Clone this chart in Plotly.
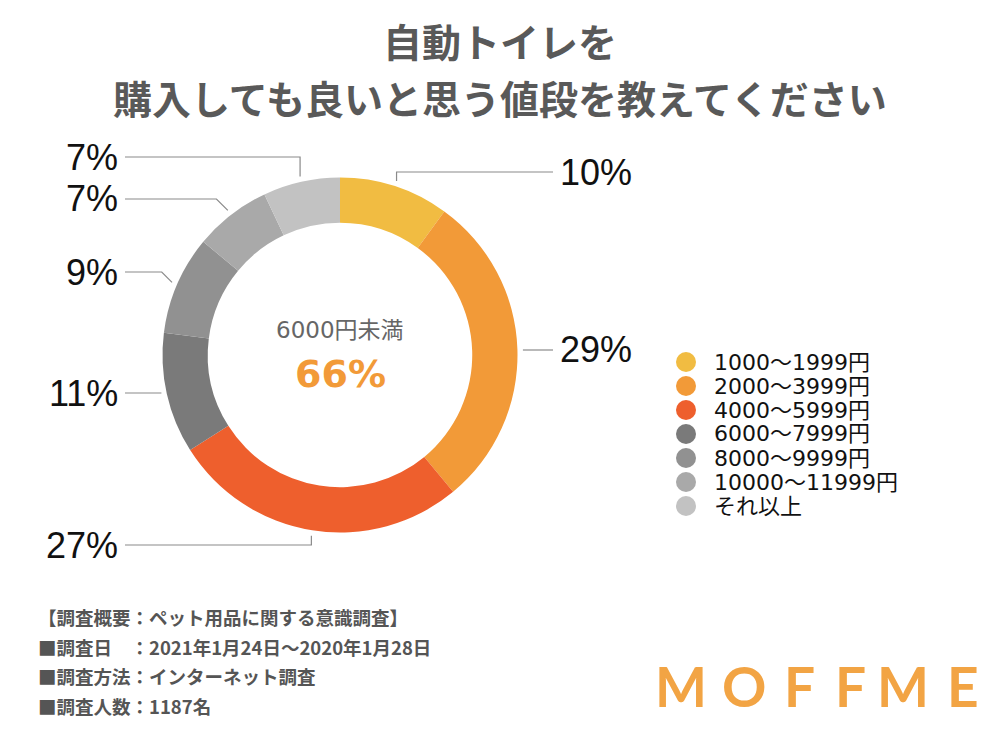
import math
import plotly.graph_objects as go

# ---------------- data ----------------
categories = ["1000〜1999円", "2000〜3999円", "4000〜5999円", "6000〜7999円",
              "8000〜9999円", "10000〜11999円", "それ以上"]
values = [10, 29, 27, 11, 9, 7, 7]
under_6000 = ["1000〜1999円", "2000〜3999円", "4000〜5999円"]
title_lines = ["自動トイレを", "購入しても良いと思う値段を教えてください"]
center_caption = "6000円未満"
footer_lines = ["【調査概要：ペット用品に関する意識調査】",
                "■調査日　：2021年1月24日〜2020年1月28日",
                "■調査方法：インターネット調査",
                "■調査人数：1187名"]
brand = "MOFFME"

# ---------------- style / layout ----------------
colors = ["#F1BC42", "#F29A38", "#EE5F2D", "#7A7A7A", "#919191", "#A9A9A9", "#C2C2C2"]
W, H = 1000, 750
OFF = 8  # page body margin in the browser
CX, CY, R = 340, 355, 177.5
HOLE = 0.745
label_y = [172, 350, 545, 393, 272, 199, 157]
leader_kind = ["v", "h", "v", "h", "d", "d", "v"]
R_START = 183
LEFT_END, RIGHT_END = 125, 553
LEFT_TEXT, RIGHT_TEXT = 120, 558
LINE_COLOR = "#8A8A8A"
JP = "Noto Sans CJK JP"
LATIN = "DejaVu Sans, Noto Sans CJK JP"


def px(x):
    return (x - OFF) / W


def py(y):
    return 1 - (y - OFF) / H


fig = go.Figure()
fig.add_trace(go.Pie(
    labels=categories, values=values, sort=False, direction="clockwise",
    rotation=0, hole=HOLE, textinfo="none", showlegend=False,
    marker=dict(colors=colors, line=dict(width=0)),
    domain=dict(x=[px(CX - R), px(CX + R)], y=[py(CY + R), py(CY - R)]),
))

shapes = []
annotations = []

# leader lines and percentage labels
total = sum(values)
cum = 0
for i, v in enumerate(values):
    mid = (cum + v / 2) / total * 2 * math.pi
    cum += v
    sx = CX + R_START * math.sin(mid)
    sy = CY - R_START * math.cos(mid)
    right = sx > CX
    ly = label_y[i]
    end_x = RIGHT_END if right else LEFT_END
    kind = leader_kind[i]
    if kind == "v":
        pts = [(sx, sy), (sx, ly), (end_x, ly)]
    elif kind == "d":
        dy = abs(sy - ly)
        ex = sx + dy if right else sx - dy
        pts = [(sx, sy), (ex, ly), (end_x, ly)]
    else:
        pts = [(sx, ly), (end_x, ly)]
    path = "M " + " L ".join(f"{px(a):.5f},{py(b):.5f}" for a, b in pts)
    shapes.append(dict(type="path", xref="paper", yref="paper", path=path,
                       line=dict(color=LINE_COLOR, width=1.2)))
    annotations.append(dict(
        xref="paper", yref="paper", x=px(RIGHT_TEXT if right else LEFT_TEXT), y=py(ly),
        xanchor="left" if right else "right", yanchor="middle", showarrow=False,
        text=f"{v}%", font=dict(family="Liberation Sans, Arial", size=36, color="#111111")))

# center text
share = sum(v for c, v in zip(categories, values) if c in under_6000)
annotations.append(dict(xref="paper", yref="paper", x=px(CX), y=py(330), showarrow=False,
                        xanchor="center", yanchor="middle", text=center_caption,
                        font=dict(family=LATIN, size=23, color="#666666")))
annotations.append(dict(xref="paper", yref="paper", x=px(CX), y=py(374), showarrow=False,
                        xanchor="center", yanchor="middle", text=f"<b>{share}%</b>",
                        font=dict(family="DejaVu Sans", size=38, color="#F29A38")))

# title
for j, t in enumerate(title_lines):
    annotations.append(dict(xref="paper", yref="paper", x=px(500), y=py(40 + 57 * j),
                            showarrow=False, xanchor="center", yanchor="middle",
                            text=f"<b>{t}</b>",
                            font=dict(family=JP, size=39, color="#595959")))

# custom legend
for k, (c, col) in enumerate(zip(categories, colors)):
    yy = 362 + 24 * k
    shapes.append(dict(type="circle", xref="paper", yref="paper",
                       x0=px(676), x1=px(696), y0=py(yy + 10), y1=py(yy - 10),
                       fillcolor=col, line=dict(width=0)))
    annotations.append(dict(xref="paper", yref="paper", x=px(712), y=py(yy),
                            showarrow=False, xanchor="left", yanchor="middle", text=c,
                            font=dict(family=LATIN, size=22, color="#111111")))

# footer
for j, t in enumerate(footer_lines):
    annotations.append(dict(xref="paper", yref="paper", x=px(36), y=py(617 + 29.5 * j),
                            showarrow=False, xanchor="left", yanchor="middle",
                            text=f"<b>{t}</b>",
                            font=dict(family=JP, size=18.5, color="#555555")))

# brand logo letters
letter_x = [681, 744, 799, 850, 903, 963]
for ch, lx in zip(brand, letter_x):
    annotations.append(dict(xref="paper", yref="paper", x=px(lx), y=py(686),
                            showarrow=False, xanchor="center", yanchor="middle",
                            text=f"<b>{ch}</b>", font=dict(family="Lato, Open Sans", size=55,
                                                          color="#F2A444")))

fig.update_layout(width=W, height=H, margin=dict(l=0, r=0, t=0, b=0),
                  paper_bgcolor="white", plot_bgcolor="white",
                  shapes=shapes, annotations=annotations, showlegend=False)

fig.write_html("out.html")
